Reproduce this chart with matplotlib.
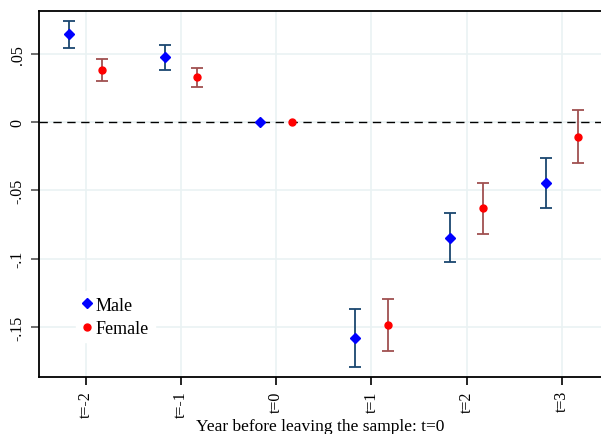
import numpy as np
import matplotlib
matplotlib.use('Agg')
import matplotlib.pyplot as plt

# event time and labels
years = [-2, -1, 0, 1, 2, 3]
tick_labels = ['t=-2', 't=-1', 't=0', 't=1', 't=2', 't=3']

# point estimates and confidence bounds
male_coef = [0.0644, 0.0476, 0.0, -0.158, -0.0849, -0.0447]
male_lo = [0.054, 0.038, 0.0, -0.179, -0.1025, -0.063]
male_hi = [0.074, 0.0564, 0.0, -0.137, -0.0666, -0.0264]

female_coef = [0.038, 0.033, 0.0, -0.1486, -0.063, -0.011]
female_lo = [0.030, 0.0256, 0.0, -0.1676, -0.082, -0.030]
female_hi = [0.046, 0.040, 0.0, -0.1296, -0.0447, 0.0088]

plt.rcParams['font.family'] = ['Liberation Serif', 'DejaVu Serif']

fig = plt.figure(figsize=(6.01, 4.35), dpi=100)
ax = fig.add_axes([0.0649, 0.131, 0.935, 0.841])

off = 0.17
xm = np.array(years) - off
xf = np.array(years) + off

def draw_ci(x, coef, lo, hi, col):
    coef = np.array(coef)
    err = [coef - np.array(lo), np.array(hi) - coef]
    keep = np.array(hi) != np.array(lo)
    ax.errorbar(x[keep], coef[keep], yerr=[err[0][keep], err[1][keep]],
                fmt='none', ecolor=col, elinewidth=1.3, capsize=4, capthick=1.3, zorder=3)

draw_ci(xm, male_coef, male_lo, male_hi, '#1a476f')
draw_ci(xf, female_coef, female_lo, female_hi, '#a05050')

ax.plot(xm, male_coef, 'D', color='#0000ff', markersize=5, label='Male', zorder=4)
ax.plot(xf, female_coef, 'o', color='#ff0000', markersize=5, label='Female', zorder=4)

ax.axhline(0, color='black', lw=1, ls=(0, (6, 4)), zorder=2)

ax.set_xlim(-2.49, 3.41)
ax.set_ylim(-0.1867, 0.0813)
ax.set_xticks(years)
ax.set_xticklabels(tick_labels, rotation=90, fontsize=11.5)
ax.set_yticks([-0.15, -0.1, -0.05, 0, 0.05])
ax.set_yticklabels(['-.15', '-.1', '-.05', '0', '.05'], rotation=90, va='center', fontsize=11.5)

ax.grid(True, color='#eaf2f3', lw=1.2, zorder=0)
ax.set_axisbelow(True)

ax.spines['right'].set_visible(False)
for s in ['left', 'bottom', 'top']:
    ax.spines[s].set_linewidth(1.3)
    ax.spines[s].set_color('black')
ax.tick_params(axis='y', length=6, color='#555555', width=1.2)
ax.tick_params(axis='x', length=6, color='black', width=1.2)

ax.set_xlabel('Year before leaving the sample: t=0', fontsize=12.5, labelpad=1)

leg = ax.legend(loc='lower left', bbox_to_anchor=(0.05, 0.07), frameon=True,
                fontsize=13, handletextpad=0.2, borderpad=0.3, labelspacing=0.35,
                handlelength=0.6)
leg.get_frame().set_edgecolor('white')
leg.get_frame().set_facecolor('white')
leg.get_frame().set_alpha(1)

fig.savefig('out.png', dpi=100)
